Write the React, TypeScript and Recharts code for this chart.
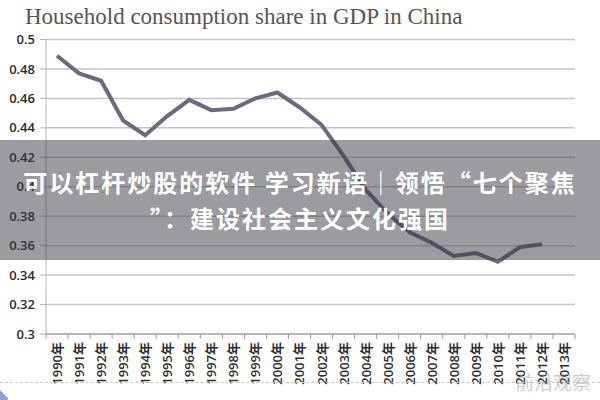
import { LineChart, Line, XAxis, YAxis, CartesianGrid } from 'recharts';

const years = [
  '1990年', '1991年', '1992年', '1993年', '1994年', '1995年', '1996年', '1997年',
  '1998年', '1999年', '2000年', '2001年', '2002年', '2003年', '2004年', '2005年',
  '2006年', '2007年', '2008年', '2009年', '2010年', '2011年', '2012年', '2013年',
];

const shares = [
  0.489, 0.477, 0.472, 0.445, 0.435, 0.448, 0.459, 0.452,
  0.453, 0.460, 0.464, 0.454, 0.442, 0.421, 0.398, 0.382,
  0.369, 0.362, 0.353, 0.355, 0.349, 0.359, 0.361, null,
];

const yTicks = [0.3, 0.32, 0.34, 0.36, 0.38, 0.4, 0.42, 0.44, 0.46, 0.48, 0.5];

const title = 'Household consumption share in GDP in China';
const bannerLines = ['可以杠杆炒股的软件 学习新语｜领悟“七个聚焦', '”：建设社会主义文化强国'];
const watermark = '前沿观察';

const data = years.map((year, i) => ({ year, share: shares[i] }));

const W = 600;
const H = 400;
const LEFT = 46;
const RIGHT = 25;
const BAND = (W - LEFT - RIGHT) / years.length;

function YearTick(props: any) {
  const { x, y, payload, index } = props;
  const axisY = y - 8;
  return (
    <g>
      <line x1={x - BAND / 2} y1={axisY} x2={x - BAND / 2} y2={axisY + 5} stroke="#9a9a9a" />
      {index === years.length - 1 && (
        <line x1={x + BAND / 2} y1={axisY} x2={x + BAND / 2} y2={axisY + 5} stroke="#9a9a9a" />
      )}
      <text
        x={x}
        y={y}
        transform={`rotate(-90, ${x}, ${y})`}
        textAnchor="end"
        dominantBaseline="central"
        fontSize={13}
        fontWeight={600}
        fontFamily="'Open Sans', 'Noto Sans CJK SC', sans-serif"
        fill="#2e2e2e"
      >
        {payload.value}
      </text>
    </g>
  );
}

export default function App() {
  return (
    <div style={{ position: 'absolute', left: 0, top: 0, width: W, height: H, background: '#fff', overflow: 'hidden' }}>
      <div
        style={{
          position: 'absolute',
          left: 25,
          top: 3,
          fontFamily: "'Liberation Serif', serif",
          fontSize: 23,
          lineHeight: '27px',
          color: '#555',
          whiteSpace: 'nowrap',
        }}
      >
        {title}
      </div>

      <LineChart width={W} height={H} data={data} margin={{ top: 39.5, right: RIGHT, left: 0, bottom: 0 }}>
        <CartesianGrid vertical={false} stroke="#c4c4c4" strokeWidth={1.5} />
        <XAxis
          dataKey="year"
          scale="band"
          interval={0}
          height={66}
          tickLine={false}
          axisLine={{ stroke: '#9a9a9a' }}
          tick={<YearTick />}
        />
        <YAxis
          width={LEFT}
          domain={[0.3, 0.5]}
          ticks={yTicks}
          interval={0}
          tickMargin={5}
          tickFormatter={(v: number) => String(Number(v.toFixed(2)))}
          axisLine={{ stroke: '#b5b5b5' }}
          tickLine={{ stroke: '#b5b5b5' }}
          tick={{ fontSize: 13, fontWeight: 600, fill: '#2b2b2b', fontFamily: "'Open Sans', sans-serif" }}
        />
        <Line
          type="linear"
          dataKey="share"
          stroke="#6b6b80"
          strokeWidth={4}
          dot={false}
          isAnimationActive={false}
        />
      </LineChart>

      <div
        style={{
          position: 'absolute',
          left: 0,
          top: 140,
          width: W,
          height: 120,
          background: 'rgba(55, 55, 65, 0.5)',
          color: '#fff',
          fontFamily: "'Noto Sans CJK SC', sans-serif",
          fontWeight: 700,
          fontSize: 24,
          lineHeight: '36px',
          letterSpacing: 2,
          textAlign: 'center',
          paddingTop: 24,
          boxSizing: 'border-box',
        }}
      >
        {bannerLines.map((t) => (
          <div key={t} style={{ whiteSpace: 'nowrap' }}>{t}</div>
        ))}
      </div>

      <div
        style={{
          position: 'absolute',
          left: 0,
          top: 382,
          width: W,
          borderTop: '1px dashed #c8c8c8',
        }}
      />
      <div
        style={{
          position: 'absolute',
          left: 515,
          top: 368,
          fontFamily: "'Noto Sans CJK SC', sans-serif",
          fontSize: 19,
          color: 'rgba(160, 160, 170, 0.55)',
          whiteSpace: 'nowrap',
        }}
      >
        {watermark}
      </div>
      <div
        style={{
          position: 'absolute',
          left: 0,
          top: 390,
          width: 12,
          height: 12,
          background: '#8aa6cc',
          transform: 'rotate(45deg)',
          transformOrigin: 'left top',
        }}
      />
    </div>
  );
}
